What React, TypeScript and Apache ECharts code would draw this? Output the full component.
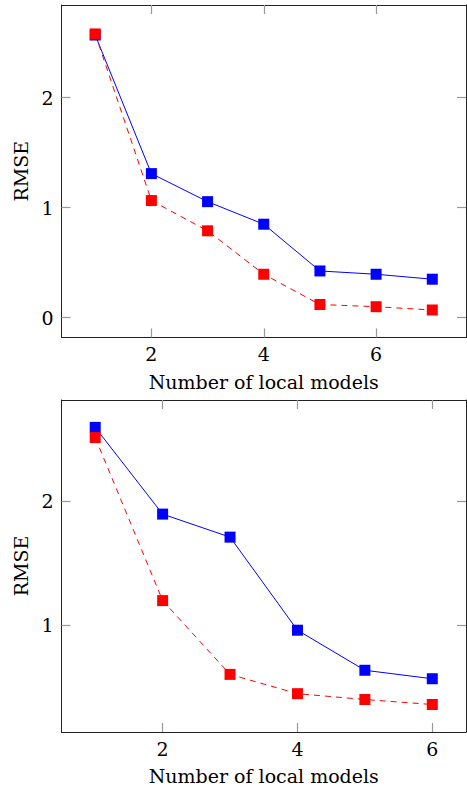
import React, { useEffect, useRef } from "react";
import * as echarts from "echarts";

// Top chart data
const topX = [1, 2, 3, 4, 5, 6, 7];
const topBlue = [2.57, 1.31, 1.055, 0.85, 0.425, 0.395, 0.35];
const topRed = [2.58, 1.065, 0.79, 0.395, 0.12, 0.1, 0.07];
const topXTicks = [2, 4, 6];
const topYTicks = [0, 1, 2];

// Bottom chart data
const botX = [1, 2, 3, 4, 5, 6];
const botBlue = [2.59, 1.893, 1.708, 0.96, 0.638, 0.57];
const botRed = [2.508, 1.198, 0.605, 0.45, 0.403, 0.363];
const botXTicks = [2, 4, 6];
const botYTicks = [1, 2];

const xLabel = "Number of local models";
const yLabel = "RMSE";

const FONT = "DejaVu Serif";
const FS = 19;

function pairs(xs: number[], ys: number[]) {
  return xs.map((x, i) => [x, ys[i]]);
}

export default function App() {
  const ref = useRef<HTMLDivElement>(null);
  useEffect(() => {
    if (!ref.current) return;
    const chart = echarts.init(ref.current, undefined, { renderer: "svg" });
    const grids = [
      { left: 61.5, top: 5, width: 404.5, height: 332.5 },
      { left: 61.5, top: 400, width: 404.5, height: 332 },
    ];
    const ranges = [
      { xmin: 0.4, xmax: 7.6, ymin: -0.18, ymax: 2.843, xt: topXTicks, yt: topYTicks },
      { xmin: 0.5, xmax: 6.5, ymin: 0.142, ymax: 2.81, xt: botXTicks, yt: botYTicks },
    ];
    const lineStyle = { color: "#222", width: 1 };
    const tick = (vals: number[]) => ({
      show: true,
      inside: true,
      length: 9,
      customValues: vals,
      lineStyle: { color: "#999", width: 1.2 },
    });
    const xAxis: any[] = [];
    const yAxis: any[] = [];
    ranges.forEach((r, i) => {
      xAxis.push({
        type: "value",
        gridIndex: i,
        position: "bottom",
        min: r.xmin,
        max: r.xmax,
        axisLine: { show: true, onZero: false, lineStyle },
        axisTick: tick(r.xt),
        axisLabel: {
          show: true,
          customValues: r.xt,
          margin: 7,
          color: "#000",
          fontFamily: FONT,
          fontSize: FS,
        },
        splitLine: { show: false },
      });
      xAxis.push({
        type: "value",
        gridIndex: i,
        position: "top",
        min: r.xmin,
        max: r.xmax,
        axisLine: { show: true, onZero: false, lineStyle },
        axisTick: tick(r.xt),
        axisLabel: { show: false },
        splitLine: { show: false },
      });
      yAxis.push({
        type: "value",
        gridIndex: i,
        position: "left",
        min: r.ymin,
        max: r.ymax,
        axisLine: { show: true, onZero: false, lineStyle },
        axisTick: tick(r.yt),
        axisLabel: {
          show: true,
          customValues: r.yt,
          margin: 8,
          color: "#000",
          fontFamily: FONT,
          fontSize: FS,
        },
        splitLine: { show: false },
      });
      yAxis.push({
        type: "value",
        gridIndex: i,
        position: "right",
        min: r.ymin,
        max: r.ymax,
        axisLine: { show: true, onZero: false, lineStyle },
        axisTick: tick(r.yt),
        axisLabel: { show: false },
        splitLine: { show: false },
      });
    });
    const mk = (data: number[][], color: string, dashed: boolean, idx: number) => ({
      type: "line",
      xAxisIndex: idx * 2,
      yAxisIndex: idx * 2,
      data,
      symbol: "rect",
      symbolSize: 11,
      itemStyle: { color },
      lineStyle: { color, width: 1, type: dashed ? [6, 5] : "solid" },
      silent: true,
    });
    const texts: any[] = [];
    grids.forEach((g) => {
      texts.push({
        type: "text",
        x: g.left + g.width / 2,
        y: g.top + g.height + 44,
        style: {
          text: xLabel,
          fill: "#000",
          font: `${FS}px '${FONT}'`,
          textAlign: "center",
          textVerticalAlign: "middle",
        },
      });
      texts.push({
        type: "text",
        x: 20.5,
        y: g.top + g.height / 2,
        rotation: Math.PI / 2,
        style: {
          text: yLabel,
          fill: "#000",
          font: `${FS}px '${FONT}'`,
          textAlign: "center",
          textVerticalAlign: "middle",
        },
      });
    });
    chart.setOption({
      animation: false,
      backgroundColor: "#fff",
      grid: grids,
      xAxis,
      yAxis,
      series: [
        mk(pairs(topX, topBlue), "#0000ff", false, 0),
        mk(pairs(topX, topRed), "#ff0000", true, 0),
        mk(pairs(botX, botBlue), "#0000ff", false, 1),
        mk(pairs(botX, botRed), "#ff0000", true, 1),
      ],
      graphic: texts,
    });
    return () => chart.dispose();
  }, []);
  return (
    <div
      ref={ref}
      style={{ position: "fixed", left: 0, top: 0, width: 467, height: 789, background: "#fff" }}
    />
  );
}
